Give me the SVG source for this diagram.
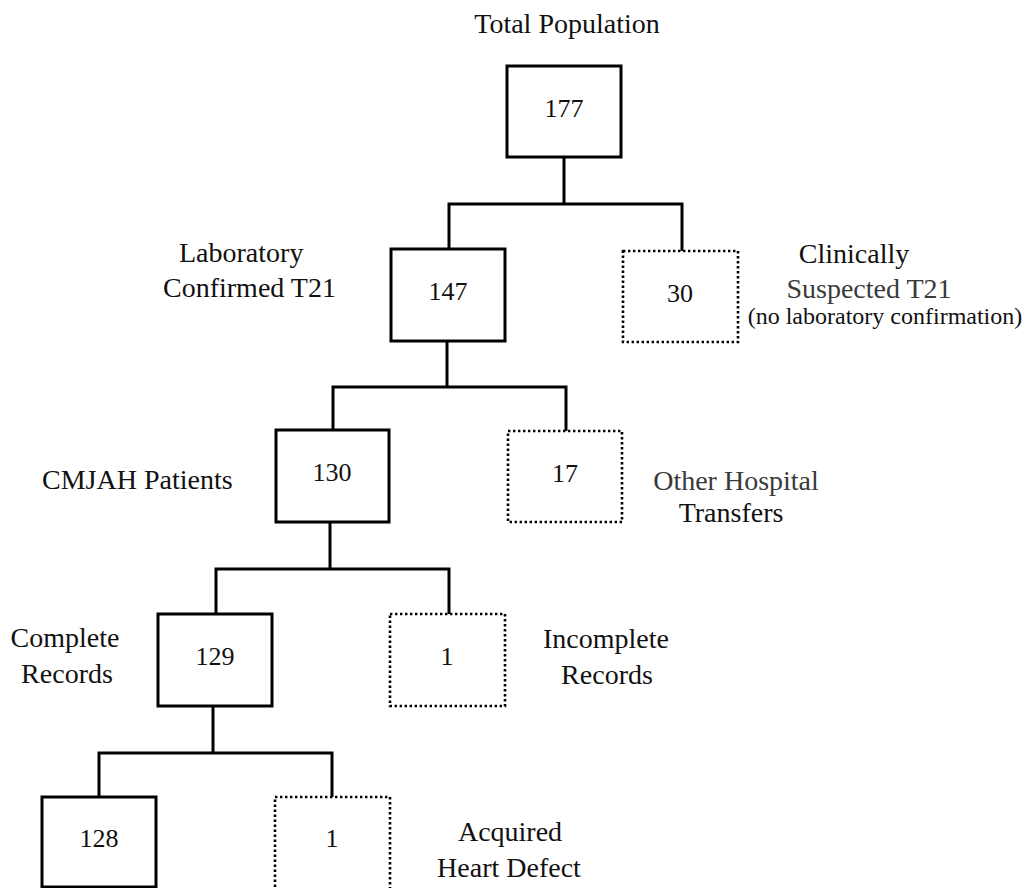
<svg xmlns="http://www.w3.org/2000/svg" width="1023" height="888" viewBox="0 0 1023 888">
<style>
.solid{fill:#fff;stroke:#000;stroke-width:3}
.dot{fill:#fff;stroke:#000;stroke-width:2.6;stroke-dasharray:2.4 2.6}
.num{font-family:"Liberation Serif","Times New Roman",serif;font-size:26px;fill:#111;text-anchor:middle}
.lbl{font-family:"Liberation Serif","Times New Roman",serif;font-size:28px;fill:#111}
.small{font-family:"Liberation Serif","Times New Roman",serif;font-size:24px;fill:#111}
.grey{fill:#3a3a3a}
.conn{fill:none;stroke:#000;stroke-width:3}
</style>
<rect width="1023" height="888" fill="#fff"/>
<g id="connectors">
<polyline class="conn" points="564,157 564,204"/>
<polyline class="conn" points="449,249 449,204 682,204 682,251"/>
<polyline class="conn" points="447,341 447,387"/>
<polyline class="conn" points="333,430 333,387 566,387 566,431"/>
<polyline class="conn" points="330,522 330,569"/>
<polyline class="conn" points="216,614 216,569 449,569 449,614"/>
<polyline class="conn" points="213,706 213,753"/>
<polyline class="conn" points="99,797 99,753 332,753 332,797"/>
</g>
<g id="total">
<text class="lbl" x="567" y="33" text-anchor="middle">Total Population</text>
<rect class="solid" x="507" y="66" width="114" height="91"/>
<text class="num" x="564" y="117">177</text>
</g>
<g id="lab">
<text class="lbl" x="179" y="262">Laboratory</text>
<text class="lbl" x="163" y="297">Confirmed T21</text>
<rect class="solid" x="391" y="249" width="114" height="92"/>
<text class="num" x="448" y="300">147</text>
</g>
<g id="clinical">
<rect class="dot" x="623" y="251" width="115" height="91"/>
<text class="num" x="680" y="302">30</text>
<text class="lbl" x="854" y="263" text-anchor="middle">Clinically</text>
<text class="lbl grey" x="869" y="298" text-anchor="middle">Suspected T21</text>
<text class="small" x="885" y="324" text-anchor="middle">(no laboratory confirmation)</text>
</g>
<g id="cmjah">
<text class="lbl" x="42" y="489">CMJAH Patients</text>
<rect class="solid" x="276" y="430" width="113" height="92"/>
<text class="num" x="332" y="481">130</text>
</g>
<g id="other">
<rect class="dot" x="508" y="431" width="114" height="91"/>
<text class="num" x="565" y="482">17</text>
<text class="lbl grey" x="736" y="490" text-anchor="middle">Other Hospital</text>
<text class="lbl" x="731" y="522" text-anchor="middle">Transfers</text>
</g>
<g id="complete">
<text class="lbl" x="65" y="647" text-anchor="middle">Complete</text>
<text class="lbl" x="67" y="683" text-anchor="middle">Records</text>
<rect class="solid" x="158" y="614" width="114" height="92"/>
<text class="num" x="215" y="665">129</text>
</g>
<g id="incomplete">
<rect class="dot" x="390" y="614" width="115" height="92"/>
<text class="num" x="447" y="665">1</text>
<text class="lbl" x="606" y="648" text-anchor="middle">Incomplete</text>
<text class="lbl" x="607" y="684" text-anchor="middle">Records</text>
</g>
<g id="n128">
<rect class="solid" x="42" y="797" width="114" height="90"/>
<text class="num" x="99" y="847">128</text>
</g>
<g id="acquired">
<rect class="dot" x="275" y="797" width="115" height="100"/>
<text class="num" x="332" y="847">1</text>
<text class="lbl" x="510" y="841" text-anchor="middle">Acquired</text>
<text class="lbl" x="509" y="877" text-anchor="middle">Heart Defect</text>
</g>
</svg>
